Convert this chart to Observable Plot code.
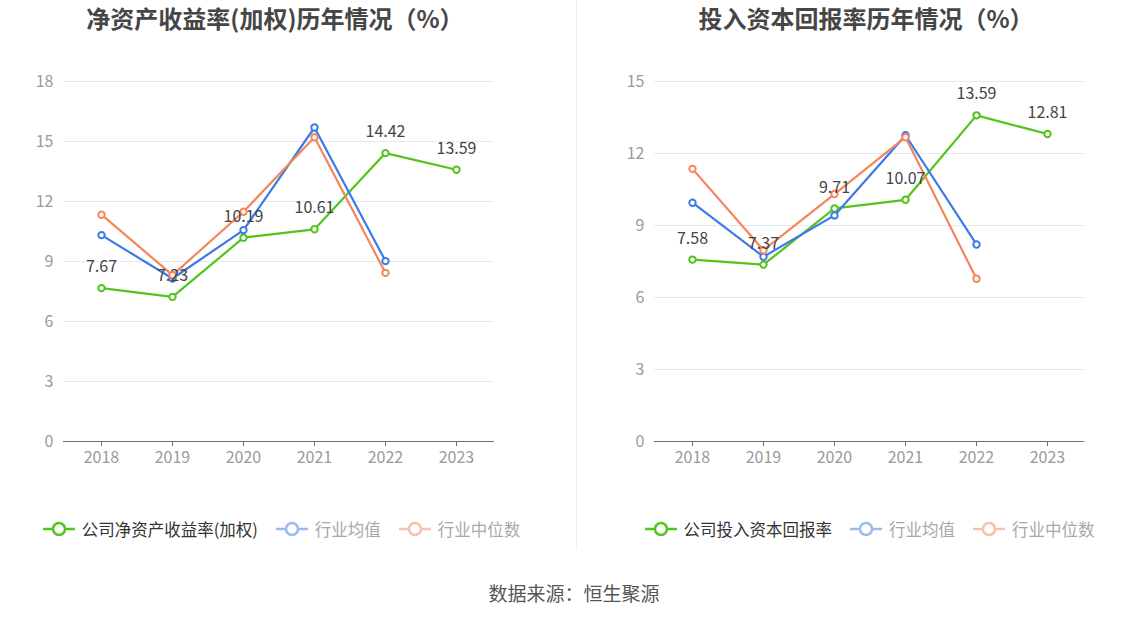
<!DOCTYPE html>
<html><head><meta charset="utf-8">
<script src="https://cdn.jsdelivr.net/npm/d3@7"></script>
<script src="https://cdn.jsdelivr.net/npm/@observablehq/plot@0.6"></script>
<style>
body{margin:0;background:#fff;font-family:"Noto Sans CJK SC","Noto Sans",sans-serif;}
#wrap{position:relative;width:1148px;height:619px;overflow:hidden;}
.panel{position:absolute;top:0;width:574px;height:560px;}
.title{position:absolute;top:0;width:574px;height:36px;line-height:36px;text-align:center;font-size:24px;font-weight:bold;color:#464646;}
.chart{position:absolute;top:40px;left:0;}
.legend{position:absolute;top:518px;left:0;width:574px;display:flex;justify-content:center;gap:17px;font-size:16.5px;line-height:22px;}
.legend .item{display:flex;align-items:center;gap:6px;}
.divider{position:absolute;left:576px;top:0;width:1px;height:550px;background:#eeeeee;}
.caption{position:absolute;top:579px;left:0;width:1148px;text-align:center;font-size:19px;color:#555;}
</style></head>
<body>
<div id="wrap">
  <div class="panel" id="p1" style="left:0"><div class="title" style="left:-12px">净资产收益率(加权)历年情况（%）</div><div class="chart"></div><div class="legend" style="left:-6px"></div></div>
  <div class="divider"></div>
  <div class="panel" id="p2" style="left:574px"><div class="title" style="left:5px">投入资本回报率历年情况（%）</div><div class="chart"></div><div class="legend" style="left:8px"></div></div>
  <div class="caption">数据来源：恒生聚源</div>
</div>
<script>
const years = ["2018","2019","2020","2021","2022","2023"];

const roeCompany = [7.67, 7.23, 10.19, 10.61, 14.42, 13.59];
const roeIndustryMean = [10.32, 8.15, 10.57, 15.70, 9.02, null];
const roeIndustryMedian = [11.34, 8.32, 11.49, 15.21, 8.43, null];
const roeTicks = [0, 3, 6, 9, 12, 15, 18];

const roicCompany = [7.58, 7.37, 9.71, 10.07, 13.59, 12.81];
const roicIndustryMean = [9.95, 7.70, 9.42, 12.76, 8.21, null];
const roicIndustryMedian = [11.36, 7.97, 10.31, 12.68, 6.78, null];
const roicTicks = [0, 3, 6, 9, 12, 15];

const seriesNames1 = ["公司净资产收益率(加权)", "行业均值", "行业中位数"];
const seriesNames2 = ["公司投入资本回报率", "行业均值", "行业中位数"];
const colors = ["#52c41a", "#3b7ae8", "#f5855b"];

function makeChart(panelId, company, mean, median, ticks, names, mLeft, mRight) {
  const panel = document.getElementById(panelId);
  const series = [company, mean, median];
  const rows = [];
  series.forEach((vals, s) => vals.forEach((v, i) => rows.push({year: years[i], s, v})));
  const line = s => rows.filter(r => r.s === s);
  const pts = s => rows.filter(r => r.s === s && r.v != null);
  const marks = [
    Plot.gridY(ticks, {stroke: "#e3e8f2", strokeOpacity: 1}),
    Plot.axisY(ticks, {tickSize: 0, tickPadding: 10, fill: "#9a9a9a", fontSize: 16, label: null}),
    Plot.ruleY([0], {stroke: "#6e7079", strokeWidth: 1.2}),
    Plot.axisX({tickSize: 5, tickPadding: 5, fill: "#9a9a9a", stroke: "#6e7079", fontSize: 16, label: null})
  ];
  [0, 1, 2].forEach(s => {
    marks.push(Plot.line(line(s), {x: "year", y: "v", stroke: colors[s], strokeWidth: 2.2}));
    marks.push(Plot.dot(pts(s), {x: "year", y: "v", r: 3.2, fill: "#fff", stroke: colors[s], strokeWidth: 2}));
  });
  marks.push(Plot.text(pts(0), {x: "year", y: "v", text: d => d.v.toFixed(2), dy: -21, fill: "#444", fontSize: 16}));
  const chart = Plot.plot({
    width: 574, height: 440,
    marginTop: 41, marginBottom: 39, marginLeft: mLeft, marginRight: mRight,
    style: {fontFamily: '"Noto Sans CJK SC","Noto Sans",sans-serif', background: "transparent", overflow: "visible"},
    x: {type: "point", domain: years, padding: 0.5, axis: null},
    y: {domain: [0, ticks[ticks.length - 1]], axis: null},
    marks
  });
  panel.querySelector(".chart").appendChild(chart);
  const legend = panel.querySelector(".legend");
  names.forEach((n, i) => {
    const item = document.createElement("div");
    item.className = "item";
    const op = i === 0 ? 1 : 0.5;
    item.innerHTML = `<svg width="34" height="16"><g opacity="${op}"><line x1="1" y1="8" x2="33" y2="8" stroke="${colors[i]}" stroke-width="2.5"/><circle cx="17" cy="8" r="6" fill="#fff" stroke="${colors[i]}" stroke-width="2.5"/></g></svg><span style="color:${i === 0 ? '#333' : '#a8a8a8'}">${n}</span>`;
    legend.appendChild(item);
  });
}

makeChart("p1", roeCompany, roeIndustryMean, roeIndustryMedian, roeTicks, seriesNames1, 63, 80);
makeChart("p2", roicCompany, roicIndustryMean, roicIndustryMedian, roicTicks, seriesNames2, 80, 64);
</script>
</body></html>
